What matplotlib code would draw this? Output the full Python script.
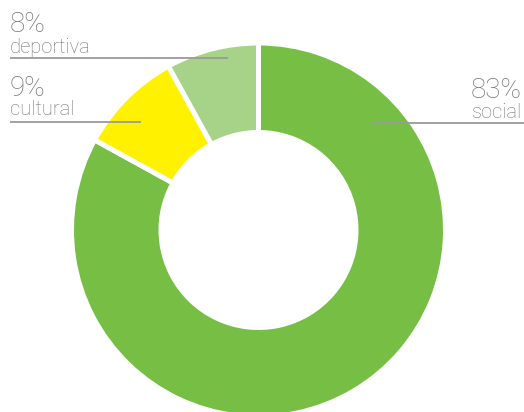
import matplotlib.pyplot as plt

# data
categories = ["social", "cultural", "deportiva"]
shares = [83, 9, 8]
colors = ["#76bf44", "#fff100", "#a6d387"]

W, H = 524, 412
TEXT = "#767676"
LINE = "#9a9a9a"

fig = plt.figure(figsize=(W / 100, H / 100), dpi=100)
ax = fig.add_axes([0, 0, 1, 1])
ax.set_xlim(0, W)
ax.set_ylim(0, H)
ax.set_aspect("equal")
ax.axis("off")

# donut, clockwise from the top
ax.pie(shares, colors=colors, startangle=90, counterclock=False,
       center=(258.5, H - 230), radius=187,
       wedgeprops=dict(width=89.5, edgecolor="white", linewidth=3.6))
ax.set_xlim(0, W)
ax.set_ylim(0, H)

font = dict(family=["Roboto", "DejaVu Sans"], weight="light", color=TEXT)

# labels: (x, y of pct, y of name, line y, line x0, line x1, align)
label_pos = {
    "deportiva": (10, 32, 53, 57.5, 10, 228, "left"),
    "cultural": (10, 96, 115, 122, 10, 141, "left"),
    "social": (522, 98, 118, 123, 372, 524, "right"),
}
for cat, val in zip(categories, shares):
    x, ypct, yname, yl, x0, x1, ha = label_pos[cat]
    ax.text(x, H - ypct, f"{val}%", ha=ha, va="baseline", fontsize=20, **font)
    ax.text(x, H - yname, cat, ha=ha, va="baseline", fontsize=14.5, **font)
    ax.plot([x0, x1], [H - yl, H - yl], color=LINE, lw=1.3, solid_capstyle="butt")

fig.savefig("out.png", dpi=100)
